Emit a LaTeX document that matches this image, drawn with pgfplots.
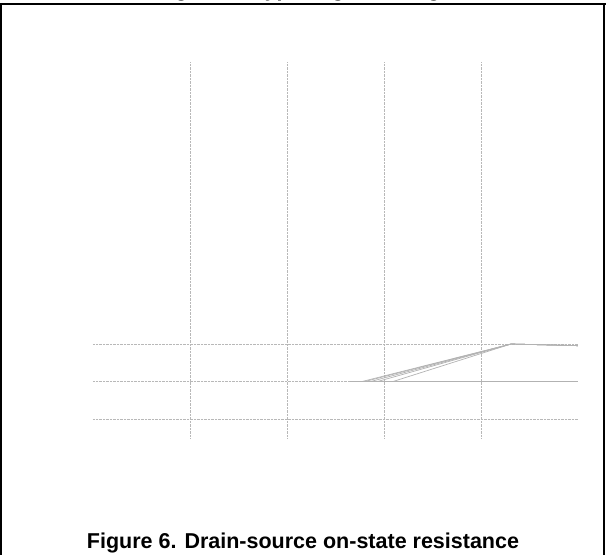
\documentclass[border=0pt]{standalone}
\usepackage{fontspec}
\setmainfont{Liberation Sans}
\usepackage{pgfplots}
\pgfplotsset{compat=1.18}
\begin{document}
\begin{tikzpicture}[x=1pt,y=1pt]
\useasboundingbox (0,0) rectangle (606,555);
% frame
\draw[line width=1.9pt] (0,551.1) -- (606,551.1);
\draw[line width=1.7pt] (0.85,551.1) -- (0.85,0);
\draw[line width=1.7pt] (604.2,551.1) -- (604.2,0);
% cut-off title of previous figure
\node[anchor=base, font=\bfseries\fontsize{21.5}{24}\selectfont, inner sep=0] at (304,558.8) {Figure 5. Typical gate charge};
% caption
\node[anchor=base, font=\bfseries\fontsize{21.5}{24}\selectfont, inner sep=0] at (303,6.5) {Figure 6. Drain-source on-state resistance};
\begin{axis}[
  at={(93pt,117pt)}, anchor=south west,
  width=485pt, height=376pt, scale only axis,
  xmin=0, xmax=5, ymin=0, ymax=10,
  xtick={1,2,3,4}, ytick={0.5,1.5,2.5},
  xticklabels={}, yticklabels={},
  axis line style={draw=none}, tick style={draw=none},
  grid=major,
  major grid style={densely dotted, line width=0.5pt, color=black!28},
]
\addplot[color=black!30, line width=0.7pt, mark=none] coordinates {(2.65,1.5) (5,1.5)};
\addplot[color=black!30, line width=0.7pt, mark=none] coordinates {(2.65,1.5) (2.77,1.5) (4.31,2.5) (5,2.455)};
\addplot[color=black!30, line width=0.7pt, mark=none] coordinates {(2.65,1.5) (2.80,1.5) (4.31,2.5) (5,2.455)};
\addplot[color=black!30, line width=0.7pt, mark=none] coordinates {(2.65,1.5) (2.86,1.5) (4.31,2.5) (5,2.455)};
\addplot[color=black!30, line width=0.7pt, mark=none] coordinates {(2.65,1.5) (2.93,1.5) (4.31,2.5) (5,2.455)};
\addplot[color=black!30, line width=0.7pt, mark=none] coordinates {(2.65,1.5) (3.09,1.5) (4.31,2.5) (5,2.455)};
\end{axis}
\end{tikzpicture}
\end{document}
